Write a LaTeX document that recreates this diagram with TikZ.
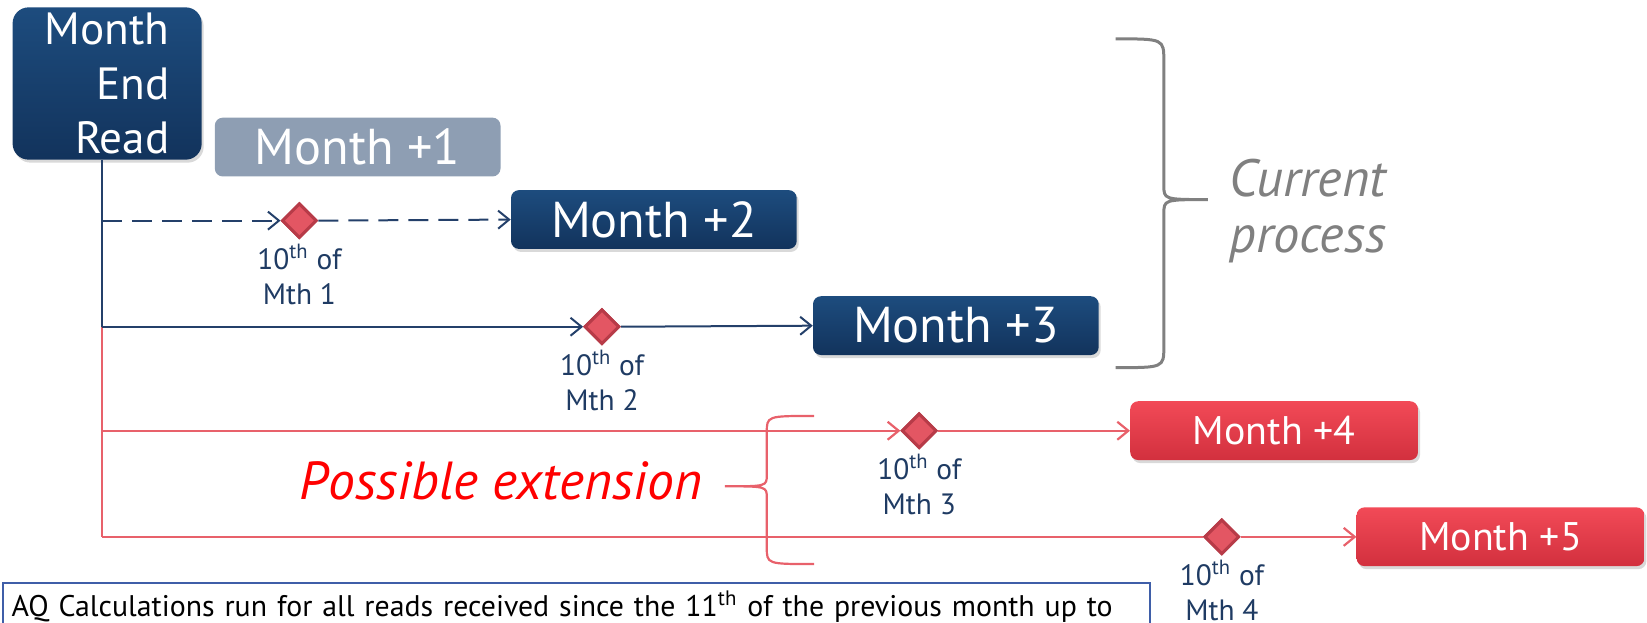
\documentclass[tikz,border=0pt]{standalone}
\usepackage{fontspec}
\setmainfont{PT Sans}
\usetikzlibrary{shapes.geometric,arrows.meta,positioning,shadows}
\definecolor{navytop}{HTML}{1D4C7E}
\definecolor{navybot}{HTML}{12335C}
\definecolor{slate}{HTML}{8E9EB3}
\definecolor{linkblue}{HTML}{24406A}
\definecolor{alarmtop}{HTML}{F24A57}
\definecolor{alarmbot}{HTML}{D2303E}
\definecolor{linkred}{HTML}{E8616B}
\definecolor{gem}{HTML}{E35663}
\definecolor{gemrim}{HTML}{B73B48}
\definecolor{bracegray}{HTML}{808080}
\definecolor{noteblue}{HTML}{3F5EA8}
\definecolor{labelblue}{HTML}{1F3B63}
\tikzset
{
    softshadow/.style = {drop shadow={opacity=0.3, shadow xshift=1pt, shadow yshift=-1.5pt}},
    startbox/.style   = {rectangle, rounded corners=8pt, top color=navytop, bottom color=navybot, text=white, align=right, minimum width=90pt, minimum height=72.5pt, inner sep=0pt, font=\fontsize{21.5}{26}\selectfont, softshadow},
    monthbox/.style   = {rectangle, rounded corners=4pt, top color=navytop, bottom color=navybot, text=white, minimum width=136pt, minimum height=28pt, inner sep=0pt, font=\fontsize{24}{28}\selectfont, softshadow},
    pastbox/.style    = {rectangle, rounded corners=4pt, fill=slate, text=white, minimum width=136pt, minimum height=28pt, inner sep=0pt, font=\fontsize{24}{28}\selectfont},
    extbox/.style     = {rectangle, rounded corners=4pt, top color=alarmtop, bottom color=alarmbot, text=white, minimum width=137pt, minimum height=28pt, inner sep=0pt, font=\fontsize{19}{22}\selectfont, softshadow},
    cutoff/.style     = {diamond, fill=gem, draw=gemrim, line width=1.5pt, minimum size=16.5pt, inner sep=0pt},
    datenote/.style   = {text=labelblue, align=center, inner sep=0pt, font=\fontsize{14}{16.5}\selectfont},
    blueline/.style   = {draw=linkblue, line width=1pt},
    redline/.style    = {draw=linkred, line width=1.1pt},
    tip/.style        = {-{Straight Barb[length=5.5pt,width=9pt]}}
}
\begin{document}
\begin{tikzpicture}[x=0.5pt, y=-0.5pt, scale=1.0504, transform shape]
\useasboundingbox (0,0) rectangle (1568,593);
\clip (0,0) rectangle (1568,593);

% boxes
\node [startbox] at (102,79.5) (mer) {Month\\End\\Read};
\node [pastbox] at (340.5,140) (m1) {Month +1};
\node [monthbox] at (622.5,209) (m2) {Month +2};
\node [monthbox] at (910,310) (m3) {Month +3};
\node [extbox] at (1213,410) (m4) {Month +4};
\node [extbox] at (1428.5,511) (m5) {Month +5};

% cut-off dates
\node [cutoff] at (285,210) (d1) {};
\node [cutoff] at (573,311) (d2) {};
\node [cutoff] at (875,410) (d3) {};
\node [cutoff] at (1163,511) (d4) {};
\node [datenote, below=2pt of d1] (n1) {10\textsuperscript{th} of\\Mth 1};
\node [datenote, below=2pt of d2] (n2) {10\textsuperscript{th} of\\Mth 2};
\node [datenote, below=2pt of d3] (n3) {10\textsuperscript{th} of\\Mth 3};
\node [datenote, below=2pt of d4] (n4) {10\textsuperscript{th} of\\Mth 4};

% stem
\coordinate (j0) at (97,152);
\coordinate (j1) at (97,210);
\coordinate (j2) at (97,311);
\coordinate (j3) at (97,410);
\coordinate (j4) at (97,511);
\draw [blueline] (j0) -- (j2);
\draw [redline] (j2) -- (j4);

% current process
\draw [blueline, dashed, dash pattern=on 10pt off 5pt, tip] (j1) -- (d1.west);
\draw [blueline, dashed, dash pattern=on 10pt off 5pt, tip] (d1.east) -- (m2.west);
\draw [blueline, tip] (j2) -- (d2.west);
\draw [blueline, tip] (d2.east) -- (m3.west);

% extension
\draw [redline, tip] (j3) -- (d3.west);
\draw [redline, tip] (d3.east) -- (m4.west);
\draw [redline] (j4) -- (d4.west);
\draw [redline, tip] (d4.east) -- (m5.west);
\node [cutoff] at (d1) {};
\node [cutoff] at (d2) {};
\node [cutoff] at (d3) {};
\node [cutoff] at (d4) {};

% braces
\draw [bracegray, line width=1.5pt] (1062,37) .. controls (1108,37) .. (1108,58) -- (1108,176) .. controls (1108,190) .. (1150,190)
      .. controls (1108,190) .. (1108,204) -- (1108,330) .. controls (1108,350) .. (1062,350);
\node [text=bracegray, align=center, font=\fontsize{25}{27}\selectfont\itshape] at (1245,201) (cur) {Current\\process};
\draw [linkred, line width=1.1pt] (775,396) .. controls (730,396) .. (730,412) -- (730,452) .. controls (730,463) .. (690,463)
      .. controls (730,463) .. (730,474) -- (730,521) .. controls (730,537) .. (775,537);
\node [text=red, font=\fontsize{25.5}{28}\selectfont\itshape] at (477,458) (ext) {Possible extension};

% note
\node [draw=noteblue, line width=1pt, anchor=north west, align=left, text width=538pt, inner xsep=4pt, inner ysep=4pt, font=\fontsize{14.2}{13}\selectfont] at (2,554) (note)
      {AQ Calculations run for all reads received since the 11\textsuperscript{th} of the previous month up to\\the 10\textsuperscript{th} of the current month};
\end{tikzpicture}
\end{document}
